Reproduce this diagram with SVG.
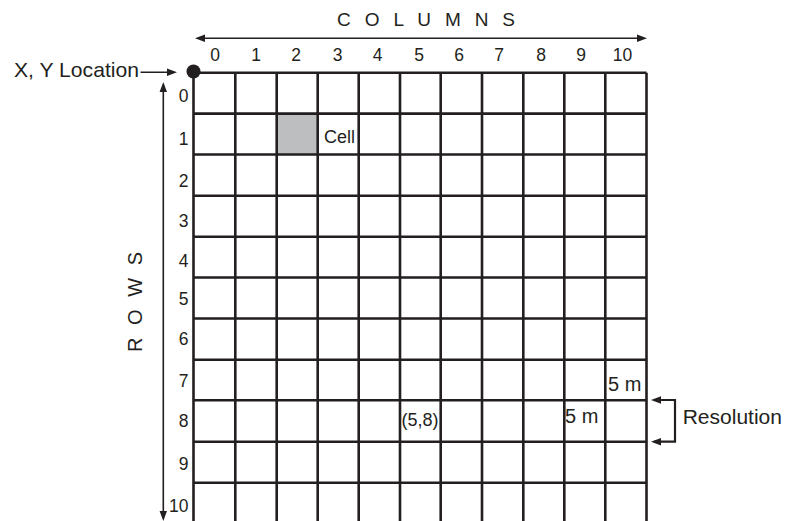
<svg xmlns="http://www.w3.org/2000/svg" width="797" height="521" viewBox="0 0 797 521">
<style>
text{font-family:"Liberation Sans",Arial,sans-serif;fill:#231f20}
.g{stroke:#231f20;stroke-width:2.6;fill:none}
.c{stroke:#231f20;stroke-width:1.6;fill:none}
.r{font-size:17.5px;text-anchor:end}
.m{font-size:17.5px;text-anchor:middle}
</style>
<defs>
<marker id="ah" markerUnits="userSpaceOnUse" markerWidth="10" markerHeight="8" viewBox="0 0 10 8" refX="7" refY="4" orient="auto-start-reverse">
<path d="M0,0.3 L10,4 L0,7.7 Z" fill="#231f20"/>
</marker>
</defs>
<rect width="797" height="521" fill="#ffffff"/>
<g id="highlighted-cell">
<rect x="277.5" y="114.5" width="39.5" height="39.5" fill="#bdbec0"/>
</g>
<g id="grid">
<path class="g" d="M193.5,72.7V521M235.3,72.7V521M276.7,72.7V521M317.7,72.7V521M358.7,72.7V521M400,72.7V521M440.7,72.7V521M482,72.7V521M523.3,72.7V521M564.3,72.7V521M605.3,72.7V521M646.5,72.7V521"/>
<path class="g" d="M193.5,72.7H646.5M193.5,113.6H646.5M193.5,154.5H646.5M193.5,195.7H646.5M193.5,236.7H646.5M193.5,277.5H646.5M193.5,318.5H646.5M193.5,359.7H646.5M193.5,400.3H646.5M193.5,441.7H646.5M193.5,482.7H646.5"/>
</g>
<g id="origin">
<circle cx="193.5" cy="71.5" r="7" fill="#231f20"/>
<text x="14" y="77" font-size="21" textLength="125" lengthAdjust="spacingAndGlyphs">X, Y Location</text>
</g>
<g id="columns-title">
<text x="337" y="25.5" font-size="19" textLength="178" lengthAdjust="spacing">C O L U M N S</text>
</g>
<g id="rows-title">
<text transform="translate(141.7,352) rotate(-90)" x="0" y="0" font-size="20" textLength="100" lengthAdjust="spacing">R O W S</text>
</g>
<g id="column-labels">
<text class="m" x="215" y="61">0</text>
<text class="m" x="256" y="61">1</text>
<text class="m" x="296" y="61">2</text>
<text class="m" x="337.5" y="61">3</text>
<text class="m" x="377.5" y="61">4</text>
<text class="m" x="419" y="61">5</text>
<text class="m" x="459" y="61">6</text>
<text class="m" x="499" y="61">7</text>
<text class="m" x="541" y="61">8</text>
<text class="m" x="581" y="61">9</text>
<text class="m" x="622.5" y="61">10</text>
</g>
<g id="row-labels">
<text class="r" x="188.5" y="101.7">0</text>
<text class="r" x="188.5" y="145">1</text>
<text class="r" x="188.5" y="186.7">2</text>
<text class="r" x="188.5" y="226.7">3</text>
<text class="r" x="188.5" y="266.7">4</text>
<text class="r" x="188.5" y="305">5</text>
<text class="r" x="188.5" y="345">6</text>
<text class="r" x="188.5" y="386.7">7</text>
<text class="r" x="188.5" y="426.7">8</text>
<text class="r" x="188.5" y="470">9</text>
<text class="r" x="188.5" y="511.7">10</text>
</g>
<g id="cell-label">
<text x="324" y="142.7" font-size="18">Cell</text>
</g>
<g id="cell-5-8">
<text x="401.5" y="426" font-size="18">(5,8)</text>
</g>
<g id="size-labels">
<text x="608" y="390.7" font-size="20">5 m</text>
<text x="565" y="423.3" font-size="20">5 m</text>
</g>
<g id="resolution">
<text x="682.7" y="424" font-size="21">Resolution</text>
</g>
<g id="connectors">
<line class="c" x1="198" y1="38.3" x2="644" y2="38.3" marker-start="url(#ah)" marker-end="url(#ah)"/>
<line class="c" x1="163.3" y1="85" x2="163.3" y2="518" marker-start="url(#ah)" marker-end="url(#ah)"/>
<line class="c" x1="140.5" y1="72.3" x2="174" y2="72.3" marker-end="url(#ah)"/>
<path d="M654,400 H675 V441.7 H654" stroke="#231f20" stroke-width="2.2" fill="none" marker-start="url(#ah)" marker-end="url(#ah)"/>
</g>
</svg>
